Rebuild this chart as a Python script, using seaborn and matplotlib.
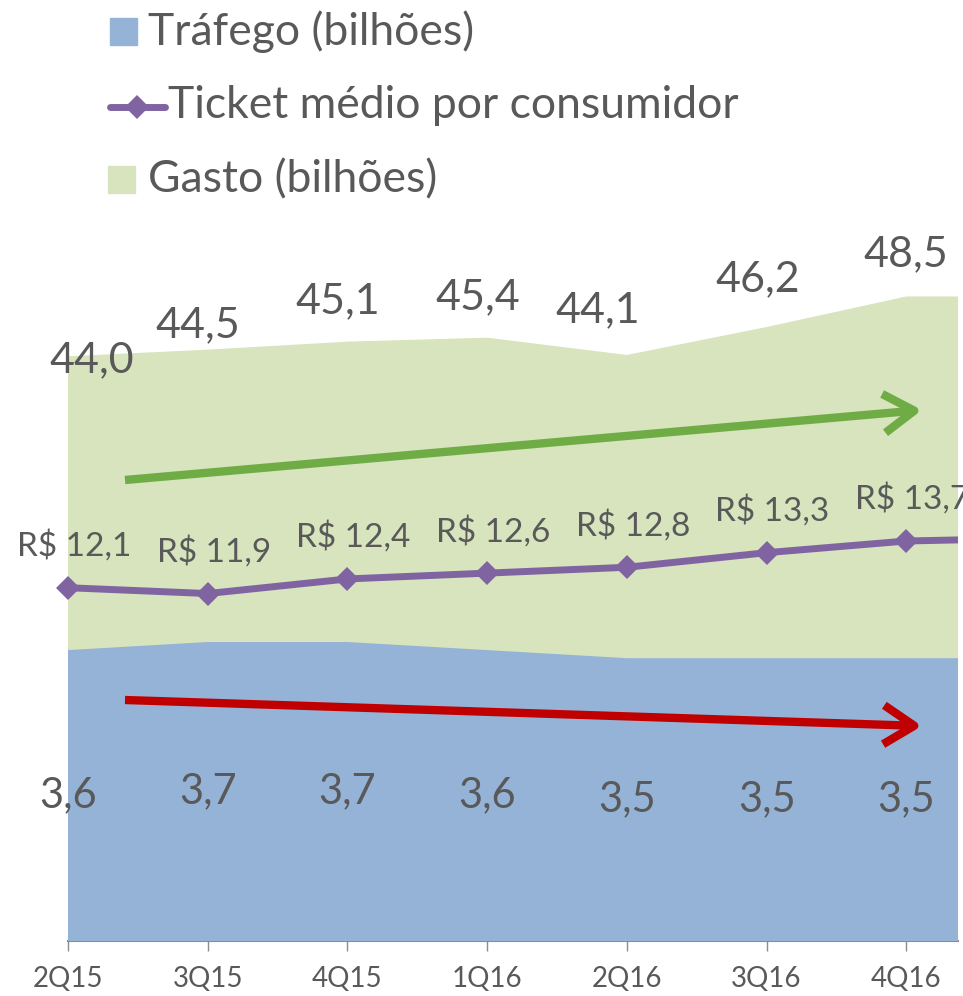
import numpy as np
import matplotlib
matplotlib.use("Agg")
import matplotlib.pyplot as plt
import matplotlib.patches as mpatches
from matplotlib.lines import Line2D
import seaborn as sns

# ── Dados ────────────────────────────────────────────────────────────────────
quarters = ['2Q15', '3Q15', '4Q15', '1Q16', '2Q16', '3Q16', '4Q16', '1Q17']
gasto    = [44.0, 44.5, 45.1, 45.4, 44.1, 46.2, 48.5, 48.5]   # bilhões
trafego  = [3.6, 3.7, 3.7, 3.6, 3.5, 3.5, 3.5, 3.5]           # bilhões
ticket   = [12.1, 11.9, 12.4, 12.6, 12.8, 13.3, 13.7, 13.8]   # R$

# ── Estilo ───────────────────────────────────────────────────────────────────
sns.set_theme(style='white')
plt.rcParams['font.family'] = ['Lato', 'DejaVu Sans']
GREEN_AREA = '#D7E4BD'
BLUE_AREA  = '#95B3D7'
PURPLE     = '#8064A2'
GREEN_ARR  = '#6FAC46'
RED_ARR    = '#C00000'
TXT        = '#595959'

W, H = 963, 996
fig = plt.figure(figsize=(W / 100, H / 100), dpi=100)
ax = fig.add_axes([0, 55 / H, 958 / W, 800 / H])

x = np.arange(len(quarters))
XMIN, XMAX = -68 / 139.7, 6.37

# Gasto (área verde)
ax.fill_between(x, gasto, color=GREEN_AREA, lw=0)
ax.set_ylim(0, 60.2)
ax.set_xlim(XMIN, XMAX)

# Tráfego (área azul, eixo secundário)
ax2 = ax.twinx()
ax2.fill_between(x, trafego, color=BLUE_AREA, lw=0)
ax2.set_ylim(0, 9.9)

# Ticket médio (linha roxa)
ax3 = ax.twinx()
sns.lineplot(x=x, y=ticket, ax=ax3, color=PURPLE, lw=5, marker='D',
             markersize=12, markeredgewidth=0)
ax3.set_ylim(0, 27.4)

for a in (ax, ax2, ax3):
    a.set_xlim(XMIN, XMAX)
    for s in a.spines.values():
        s.set_visible(False)
    a.set_yticks([])
    a.set_ylabel('')
ax2.set_xticks([]); ax3.set_xticks([])

ax.spines['bottom'].set_visible(True)
ax.spines['bottom'].set_color('#8C8C8C')
ax.spines['bottom'].set_linewidth(1.5)
ax.spines['bottom'].set_bounds(0, XMAX)
ax.set_xticks(x[:7])
ax.set_xticklabels(quarters[:7], fontsize=20, color=TXT,
                   family=['Liberation Sans Narrow', 'Lato'])
ax.tick_params(axis='x', direction='out', length=7, width=1, color='#8C8C8C',
               pad=11, bottom=True)

# Rótulos
gasto_nudge = [(24, -4), (-10, 24), (-10, 40), (-9, 40), (-29, 45), (-9, 48), (0, 42)]
for i, v in enumerate(gasto[:7]):
    ax.annotate(f'{v:.1f}'.replace('.', ','), (x[i], v), xytext=gasto_nudge[i],
                textcoords='offset pixels', ha='center', va='center',
                fontsize=31, color=TXT, annotation_clip=False)

for i, v in enumerate(trafego[:7]):
    ax2.text(x[i], v / 2, f'{v:.1f}'.replace('.', ','), ha='center', va='center',
             fontsize=30, color=TXT)

for i, v in enumerate(ticket[:7]):
    t = ax3.annotate(f'R$ {v:.1f}'.replace('.', ','), (x[i], v), xytext=(6, 42),
                     textcoords='offset pixels', ha='center', va='center',
                     fontsize=24, color=TXT)
    t.set_clip_on(True)

# Setas de tendência
ax3.annotate('', xy=(922, H - 410), xytext=(125, H - 480), xycoords='figure pixels',
             textcoords='figure pixels',
             arrowprops=dict(arrowstyle='->,head_length=0.55,head_width=0.35',
                             lw=6, color=GREEN_ARR, mutation_scale=40,
                             shrinkA=0, shrinkB=0, capstyle='butt'))
ax3.annotate('', xy=(922, H - 726), xytext=(125, H - 700), xycoords='figure pixels',
             textcoords='figure pixels',
             arrowprops=dict(arrowstyle='->,head_length=0.55,head_width=0.35',
                             lw=6, color=RED_ARR, mutation_scale=40,
                             shrinkA=0, shrinkB=0, capstyle='butt'))

# Legenda (desenhada à mão, como no original)
def fx(px): return px / W
def fy(py): return 1 - py / H

fig.patches.append(mpatches.Rectangle((fx(110), fy(45)), 27 / W, 27 / H,
                                      transform=fig.transFigure, color=BLUE_AREA))
fig.text(fx(148), fy(32), 'Tráfego (bilhões)', fontsize=32, color=TXT, va='center')
fig.lines.append(Line2D([fx(110), fx(165)], [fy(107), fy(107)], transform=fig.transFigure,
                        color=PURPLE, lw=5, solid_capstyle='round'))
fig.lines.append(Line2D([fx(137)], [fy(107)], transform=fig.transFigure, color=PURPLE,
                        marker='D', markersize=12, markeredgewidth=0))
fig.text(fx(168), fy(105), 'Ticket médio por consumidor', fontsize=32, color=TXT,
         va='center')
fig.patches.append(mpatches.Rectangle((fx(108), fy(193)), 27 / W, 27 / H,
                                      transform=fig.transFigure, color=GREEN_AREA))
fig.text(fx(148), fy(180), 'Gasto (bilhões)', fontsize=32, color=TXT, va='center')

fig.savefig('out.png', dpi=100)
